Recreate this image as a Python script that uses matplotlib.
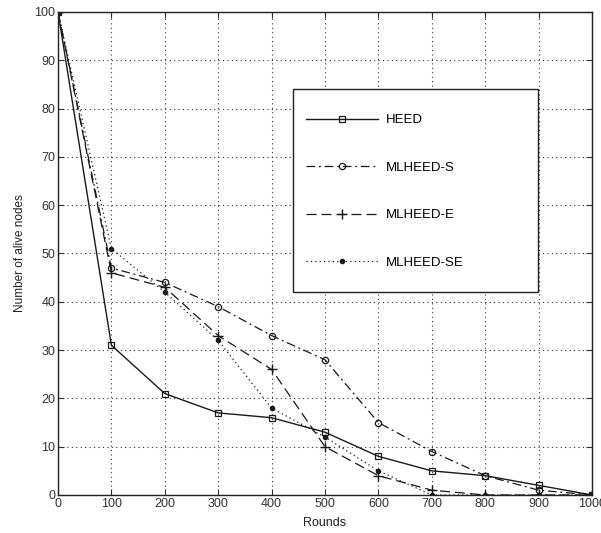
import matplotlib
matplotlib.use("Agg")
import matplotlib.pyplot as plt
from matplotlib.patches import Rectangle

rounds = [0, 100, 200, 300, 400, 500, 600, 700, 800, 900, 1000]
heed = [100, 31, 21, 17, 16, 13, 8, 5, 4, 2, 0]
mlheed_s = [100, 47, 44, 39, 33, 28, 15, 9, 4, 1, 0]
mlheed_e = [100, 46, 43, 33, 26, 10, 4, 1, 0, 0, 0]
mlheed_se = [100, 51, 42, 32, 18, 12, 5, 0, 0, 0, 0]

x_ticks = list(range(0, 1001, 100))
y_ticks = list(range(0, 101, 10))

plt.rcParams['font.family'] = ['Liberation Sans', 'DejaVu Sans']

fig = plt.figure(figsize=(6.01, 5.33), dpi=100)
ax = fig.add_axes([0.0965, 0.0713, 0.8885, 0.9062])

lc = '#1a1a1a'
ax.plot(rounds, heed, color=lc, lw=1.0, ls='-', marker='s', ms=4.5,
        mfc='none', mec=lc, mew=0.9, label='HEED')
ax.plot(rounds, mlheed_s, color=lc, lw=0.9, ls=(0, (7, 3, 1.5, 3)), marker='o', ms=4.5,
        mfc='none', mec=lc, mew=0.9, label='MLHEED-S')
ax.plot(rounds, mlheed_e, color=lc, lw=0.9, ls=(0, (8, 4)), marker='+', ms=6.5,
        mec=lc, mew=1.0, label='MLHEED-E')
ax.plot(rounds, mlheed_se, color=lc, lw=0.9, ls=(0, (1, 2.5)), marker='o', ms=3,
        mfc=lc, mec=lc, label='MLHEED-SE')

ax.set_xlim(0, 1000)
ax.set_ylim(0, 100)
ax.set_xticks(x_ticks)
ax.set_yticks(y_ticks)
ax.grid(True, color='#333333', ls=(0, (1, 3)), lw=0.8)
ax.tick_params(direction='in', length=4, labelsize=9, colors='#333333',
               top=True, right=True, pad=2)
for s in ax.spines.values():
    s.set_color('#222222')
    s.set_linewidth(1.0)

ax.set_xlabel('Rounds', fontsize=9, color='#222222', labelpad=5)
ax.set_ylabel('Number of alive nodes', fontsize=8.5, color='#222222', labelpad=6)

# legend box drawn separately so its padding can differ horizontally/vertically
box = Rectangle((0.440, 0.420), 0.459, 0.420, transform=ax.transAxes,
                facecolor='white', edgecolor='#222222', lw=1.0, zorder=4)
ax.add_patch(box)
leg = ax.legend(loc='upper left', bbox_to_anchor=(0.464, 0.789),
                borderaxespad=0, borderpad=0, fontsize=9.5, handlelength=5.5,
                handletextpad=0.6, labelspacing=2.68, frameon=False, numpoints=1)
leg.set_zorder(5)

fig.savefig('out.png', dpi=100)
